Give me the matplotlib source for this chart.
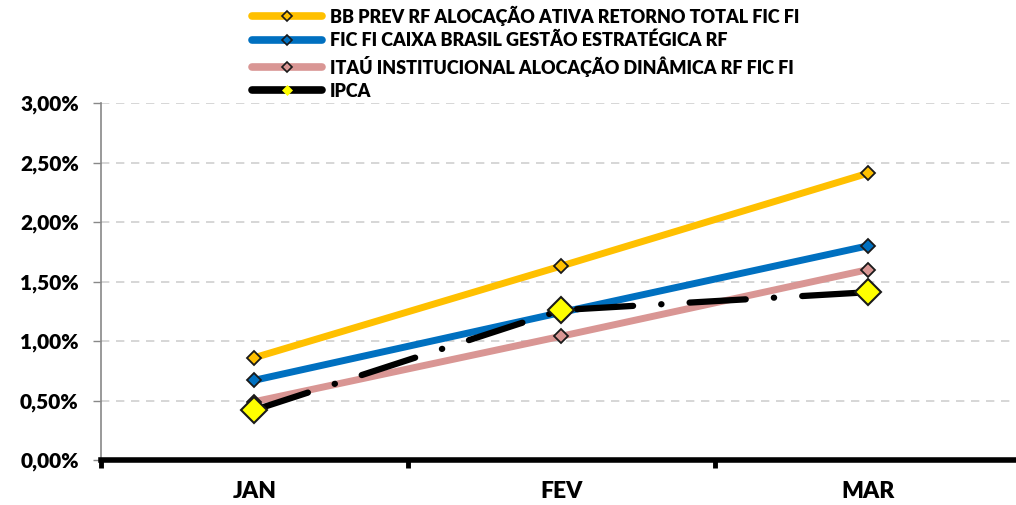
import matplotlib
matplotlib.use("Agg")
import matplotlib.pyplot as plt
from matplotlib.ticker import FuncFormatter, MultipleLocator
from matplotlib.lines import Line2D

months = ["JAN", "FEV", "MAR"]
bb_prev = [0.86, 1.63, 2.41]
caixa = [0.67, 1.24, 1.80]
itau = [0.49, 1.04, 1.60]
ipca = [0.42, 1.26, 1.41]
series_names = [
    "BB PREV RF ALOCAÇÃO ATIVA RETORNO TOTAL FIC FI",
    "FIC FI CAIXA BRASIL GESTÃO ESTRATÉGICA RF",
    "ITAÚ INSTITUCIONAL ALOCAÇÃO DINÂMICA RF FIC FI",
    "IPCA",
]

plt.rcParams['font.family'] = ['Lato', 'DejaVu Sans']
W, H = 1016, 505
fig = plt.figure(figsize=(W / 100, H / 100), dpi=100)
ax = fig.add_axes([101 / W, 45 / H, (1021.5 - 101) / W, (460 - 103) / H])

x = list(range(len(months)))
ax.plot(x, bb_prev, color="#FFC000", lw=5, marker="D", ms=7,
        mfc="#FFC000", mec="#1a1a1a", mew=1.3, solid_capstyle="round", zorder=3)
ax.plot(x, caixa, color="#0070C0", lw=5, marker="D", ms=7,
        mfc="#0070C0", mec="#1a1a1a", mew=1.3, solid_capstyle="round", zorder=3)
ax.plot(x, itau, color="#D99694", lw=5, marker="D", ms=7,
        mfc="#D99694", mec="#1a1a1a", mew=1.3, solid_capstyle="round", zorder=3)
ax.plot(x, ipca, color="black", lw=4.5, dashes=(9, 4.5, 0.05, 4.5),
        dash_capstyle="round", zorder=4)
ax.plot(x, ipca, ls="none", marker="D", ms=13, mfc="#FFFF00", mec="#1a1a1a",
        mew=1.5, zorder=5)

ax.set_xlim(-0.5, 2.5)
ax.set_ylim(0, 3.0)
ax.yaxis.set_major_locator(MultipleLocator(0.5))
ax.yaxis.set_major_formatter(FuncFormatter(lambda v, p: f"{v:.2f}%".replace(".", ",")))
ax.set_xticks(x)
ax.set_xticklabels(months)
ax.set_xticks([-0.5, 0.5, 1.5, 2.5], minor=True)
ax.tick_params(axis="x", which="major", length=0, pad=15, labelsize=16.5)
ax.tick_params(axis="x", which="minor", length=6, width=3.5, color="black", direction="out")
ax.tick_params(axis="y", length=6, width=1, color="#888888", labelsize=15, pad=10)
for lab in ax.get_xticklabels() + ax.get_yticklabels():
    lab.set_fontweight("heavy")

ax.grid(axis="y", color="#d0d0d0", ls=(0, (5, 4)), lw=1.2, zorder=0)
for s in ["top", "right"]:
    ax.spines[s].set_visible(False)
ax.spines["left"].set_color("#888888")
ax.spines["left"].set_linewidth(1.2)
ax.spines["bottom"].set_color("black")
ax.spines["bottom"].set_linewidth(4)
ax.spines["bottom"].set_zorder(6)

lh = [
    Line2D([], [], color="#FFC000", lw=5.5, marker="D", ms=5, mfc="#FFC000", mec="#1a1a1a", mew=1.2, solid_capstyle="round"),
    Line2D([], [], color="#0070C0", lw=5.5, marker="D", ms=5, mfc="#0070C0", mec="#1a1a1a", mew=1.2, solid_capstyle="round"),
    Line2D([], [], color="#D99694", lw=5.5, marker="D", ms=5, mfc="#D99694", mec="#1a1a1a", mew=1.2, solid_capstyle="round"),
    Line2D([], [], color="black", lw=5.5, marker="D", ms=5, mfc="#FFFF00", mec="#FFFF00", mew=0.5, solid_capstyle="round"),
]
leg = fig.legend(lh, series_names, loc="upper left", bbox_to_anchor=(248 / W, 1 - 2 / H),
                 frameon=False, handlelength=3.9, handletextpad=0.45, labelspacing=0.34,
                 prop={"weight": "heavy", "size": 13.0}, borderaxespad=0, borderpad=0.2)

fig.savefig("out.png", dpi=100)
